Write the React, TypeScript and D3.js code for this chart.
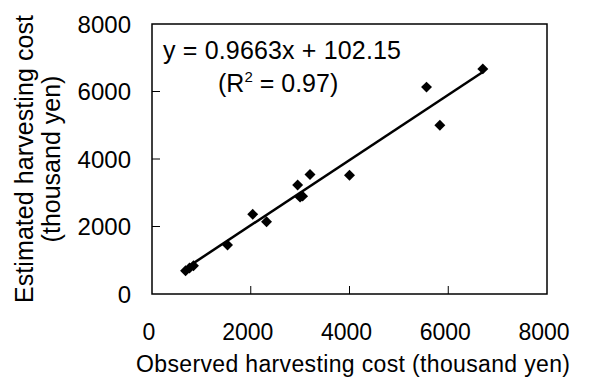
import React, { useEffect, useRef } from 'react';
import * as d3 from 'd3';

// observed vs estimated harvesting cost (thousand yen)
const observed = [680, 760, 840, 1530, 2040, 2320, 2950, 3000, 3050, 3200, 4000, 5560, 5830, 6700];
const estimated = [690, 770, 840, 1450, 2360, 2140, 3230, 2870, 2900, 3540, 3520, 6130, 5000, 6670];
const xTicks = [0, 2000, 4000, 6000, 8000];
const yTicks = [0, 2000, 4000, 6000, 8000];
const slope = 0.9663;
const intercept = 102.15;

const App = () => {
    const svgRef = useRef<SVGSVGElement>(null);

    useEffect(() => {
        const svg = d3.select(svgRef.current);
        svg.selectAll('*').remove();

        const width = 607;
        const height = 377;
        const margin = { top: 24, right: 60, bottom: 83, left: 152 };

        const x = d3.scaleLinear().domain([0, 8000]).range([margin.left, width - margin.right]);
        const y = d3.scaleLinear().domain([0, 8000]).range([height - margin.bottom, margin.top]);

        svg.attr('width', width).attr('height', height);

        svg.append('rect')
            .attr('width', width)
            .attr('height', height)
            .attr('fill', '#fff');

        const font = '"Liberation Sans", Arial, sans-serif';

        // frame
        svg.append('rect')
            .attr('x', x(0))
            .attr('y', y(8000))
            .attr('width', x(8000) - x(0))
            .attr('height', y(0) - y(8000))
            .attr('fill', 'none')
            .attr('stroke', '#000')
            .attr('stroke-width', 1.5);

        // ticks pointing inward
        svg.append('g')
            .selectAll('line')
            .data(yTicks.slice(1, -1))
            .enter().append('line')
            .attr('x1', x(0)).attr('x2', x(0) + 8)
            .attr('y1', d => y(d)).attr('y2', d => y(d))
            .attr('stroke', '#000');

        svg.append('g')
            .selectAll('line')
            .data(xTicks.slice(1, -1))
            .enter().append('line')
            .attr('x1', d => x(d)).attr('x2', d => x(d))
            .attr('y1', y(0)).attr('y2', y(0) - 8)
            .attr('stroke', '#000');

        // tick labels
        svg.append('g')
            .selectAll('text')
            .data(yTicks)
            .enter().append('text')
            .attr('x', x(0) - 21)
            .attr('y', d => y(d) + 8.5)
            .attr('text-anchor', 'end')
            .style('font-family', font)
            .style('font-size', '24px')
            .text(d => d);

        svg.append('g')
            .selectAll('text')
            .data(xTicks)
            .enter().append('text')
            .attr('x', d => x(d) - 3)
            .attr('y', 340)
            .attr('text-anchor', 'middle')
            .style('font-family', font)
            .style('font-size', '23px')
            .text(d => d);

        // axis titles
        svg.append('text')
            .attr('x', 353)
            .attr('y', 372)
            .attr('text-anchor', 'middle')
            .attr('textLength', 434)
            .style('font-family', font)
            .style('font-size', '23px')
            .text('Observed harvesting cost (thousand yen)');

        const yMid = (y(0) + y(8000)) / 2;
        const yTitle = svg.append('text')
            .attr('transform', `translate(33,${yMid}) rotate(-90)`)
            .attr('text-anchor', 'middle')
            .style('font-family', font)
            .style('font-size', '25px');
        yTitle.append('tspan').attr('x', 0).attr('y', 0).attr('textLength', 288).text('Estimated harvesting cost');
        yTitle.append('tspan').attr('x', 0).attr('y', 27).text('(thousand yen)');

        // regression line over the observed range
        const [xMin, xMax] = d3.extent(observed) as [number, number];
        svg.append('path')
            .datum([xMin, xMax])
            .attr('d', d3.line<number>()
                .x(d => x(d))
                .y(d => y(slope * d + intercept)))
            .attr('fill', 'none')
            .attr('stroke', '#000')
            .attr('stroke-width', 2.5);

        // diamonds
        svg.append('g')
            .selectAll('path')
            .data(observed.map((o, i) => [o, estimated[i]]))
            .enter().append('path')
            .attr('d', d3.symbol(d3.symbolSquare, 60)())
            .attr('transform', d => `translate(${x(d[0])},${y(d[1])}) rotate(45)`)
            .attr('fill', '#000');

        // equation
        svg.append('text')
            .attr('x', 163)
            .attr('y', 59)
            .attr('textLength', 238)
            .style('font-family', font)
            .style('font-size', '25px')
            .text(`y = ${slope}x + ${intercept}`);

        const r2 = svg.append('text')
            .attr('x', 218)
            .attr('y', 92)
            .style('font-family', font)
            .style('font-size', '25px');
        r2.append('tspan').text('(R');
        r2.append('tspan').attr('dy', -10).style('font-size', '15px').text('2');
        r2.append('tspan').attr('dy', 10).text(' = 0.97)');
    }, []);

    return <svg ref={svgRef} style={{ position: 'absolute', left: 0, top: 0 }}></svg>;
};

export default App;
